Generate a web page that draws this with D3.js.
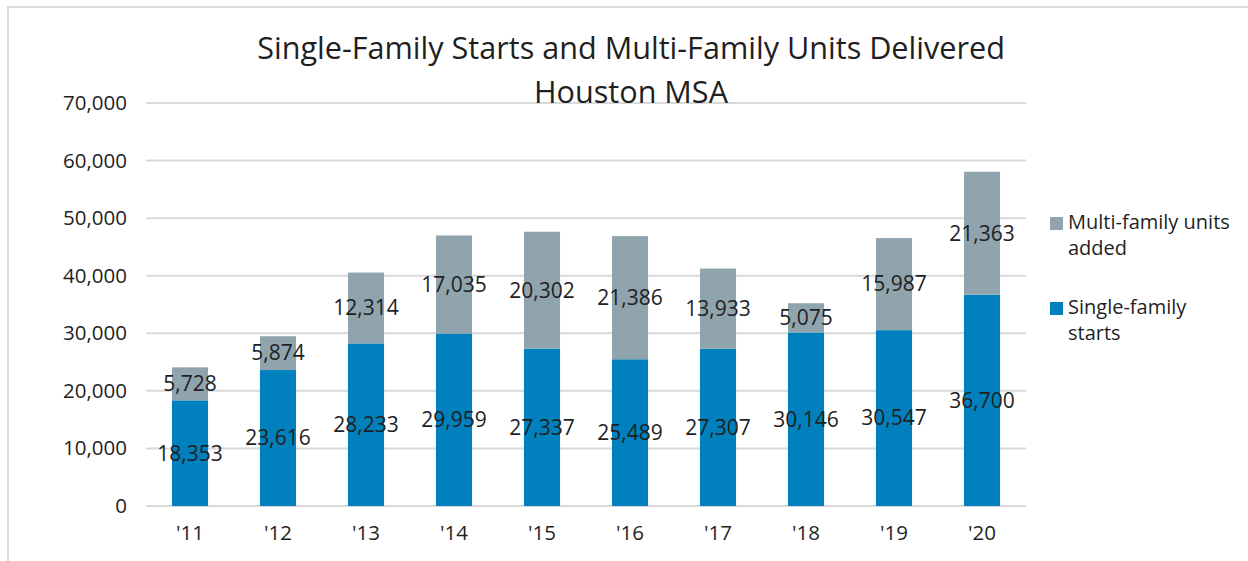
<!DOCTYPE html>
<html><head><meta charset="utf-8">
<script src="https://cdn.jsdelivr.net/npm/d3@7"></script>
<style>
html,body{margin:0;padding:0;background:#fff;}
svg{display:block;font-family:"Open Sans","Noto Sans",sans-serif;}
</style></head>
<body><svg id="c" width="1248" height="561"></svg>
<script>
const years = ["'11","'12","'13","'14","'15","'16","'17","'18","'19","'20"];
const singleFamily = [18353,23616,28233,29959,27337,25489,27307,30146,30547,36700];
const multiFamily = [5728,5874,12314,17035,20302,21386,13933,5075,15987,21363];
const yTicks = [0,10000,20000,30000,40000,50000,60000,70000];
const seriesNames = ["Multi-family units|added","Single-family|starts"];
const titleLines = ["Single-Family Starts and Multi-Family Units Delivered","Houston MSA"];

const blue = "#0081BD", gray = "#90A4AE", grid = "#D9D9D9", txt = "#1f1f1f";
const svg = d3.select("#c");
const m = {l:146, r:1026, t:103, b:506};

// border
svg.append("path").attr("d","M8,561 V7 H1248").attr("fill","none").attr("stroke","#D9D9D9").attr("stroke-width",2);

const x = d3.scaleBand().domain(years).range([m.l,m.r]).paddingInner(0.59).paddingOuter(0.295);
const y = d3.scaleLinear().domain([0,70000]).range([m.b,m.t]);

// gridlines
svg.append("g").selectAll("line").data(yTicks).join("line")
  .attr("x1",m.l).attr("x2",m.r).attr("y1",d=>y(d)).attr("y2",d=>y(d))
  .attr("stroke",grid).attr("stroke-width",2);

// y axis labels
const ya = svg.append("g").attr("transform",`translate(${m.l-19},0)`)
  .call(d3.axisLeft(y).tickValues(yTicks).tickFormat(d3.format(",")).tickSize(0).tickPadding(0));
ya.select(".domain").remove();
ya.selectAll("text").attr("font-size",20.5).attr("fill",txt).attr("font-family","Open Sans");

// x axis labels
const xa = svg.append("g").attr("transform",`translate(0,${m.b})`)
  .call(d3.axisBottom(x).tickSize(0).tickPadding(19));
xa.select(".domain").remove();
xa.selectAll("text").attr("font-size",20.5).attr("fill",txt).attr("font-family","Open Sans");

const rows = years.map((yr,i)=>({yr, sf:singleFamily[i], mf:multiFamily[i]}));
// bars
svg.append("g").selectAll("rect").data(rows).join("rect")
  .attr("x",d=>x(d.yr)).attr("width",x.bandwidth())
  .attr("y",d=>y(d.sf)).attr("height",d=>y(0)-y(d.sf)).attr("fill",blue);
svg.append("g").selectAll("rect").data(rows).join("rect")
  .attr("x",d=>x(d.yr)).attr("width",x.bandwidth())
  .attr("y",d=>y(d.sf+d.mf)).attr("height",d=>y(d.sf)-y(d.sf+d.mf)).attr("fill",gray);

// labels
const fmt = d3.format(",");
const lab = svg.append("g").attr("font-size",21).attr("fill",txt).attr("text-anchor","middle");
lab.selectAll("text.sf").data(rows).join("text").attr("class","sf")
  .attr("x",d=>x(d.yr)+x.bandwidth()/2).attr("y",d=>y(d.sf/2)).attr("dy","0.35em").text(d=>fmt(d.sf));
lab.selectAll("text.mf").data(rows).join("text").attr("class","mf")
  .attr("x",d=>x(d.yr)+x.bandwidth()/2).attr("y",d=>y(d.sf+d.mf/2)).attr("dy","0.35em").text(d=>fmt(d.mf));

// title
const title = svg.append("text").attr("text-anchor","middle").attr("fill",txt).attr("font-size",30.6);
title.selectAll("tspan").data(titleLines).join("tspan")
  .attr("x",631).attr("y",(d,i)=>59+i*44).text(d=>d);

// legend
const leg = svg.append("g").attr("font-size",20).attr("fill",txt);
const legColors = [gray, blue];
const legY = [217, 302];
seriesNames.forEach((n,i)=>{
  leg.append("rect").attr("x",1050).attr("y",legY[i]).attr("width",13).attr("height",13).attr("fill",legColors[i]);
  n.split("|").forEach((line,j)=>{
    leg.append("text").attr("x",1068).attr("y",legY[i]+12+j*26).text(line);
  });
});
</script></body></html>
